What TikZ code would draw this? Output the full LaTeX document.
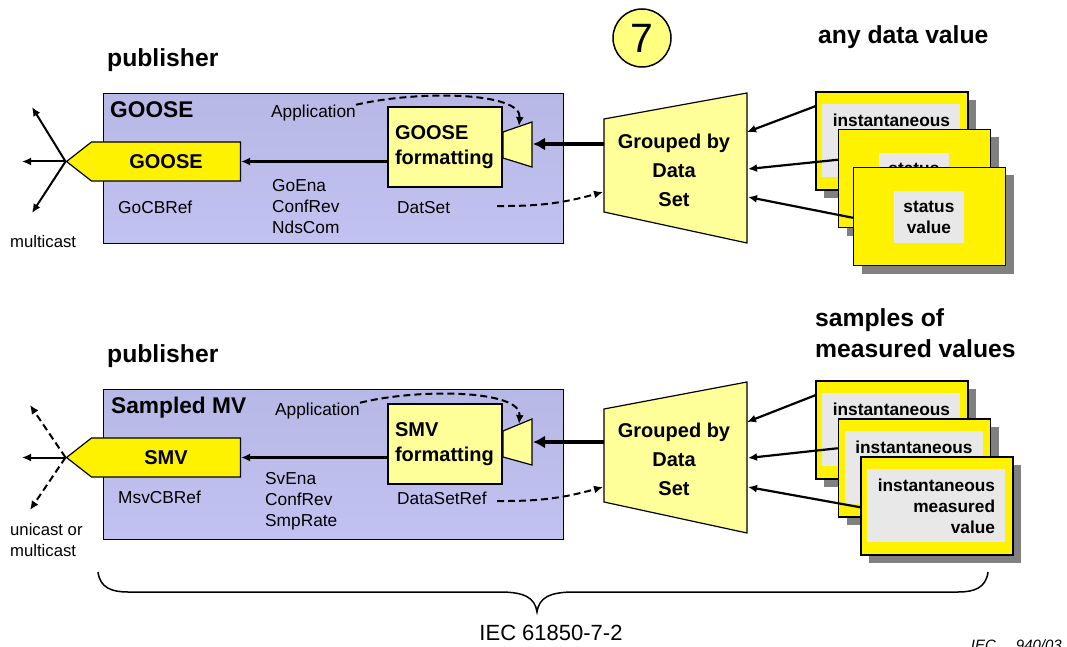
\documentclass[tikz,border=0pt]{standalone}
\usepackage{fontspec}
\setmainfont{Liberation Sans}
\usetikzlibrary{calc, positioning, shapes.symbols, shadows, arrows.meta}
\definecolor{pubtop}{RGB}{184,184,230}
\definecolor{pubmid}{RGB}{206,206,255}
\definecolor{pubbot}{RGB}{194,194,242}
\definecolor{paleyellow}{RGB}{255,255,153}
\definecolor{numyellow}{RGB}{255,255,128}
\definecolor{valgrey}{RGB}{232,232,232}
\definecolor{shadowgrey}{RGB}{128,128,128}
\tikzset{
  % Set arrowhead
  >={Latex[length=9pt, width=8pt]},
  % Texts
  txt/.style={inner sep=0pt, font=\fontsize{17.3}{21}\selectfont},
  cast/.style={inner sep=0pt, font=\fontsize{16.7}{21}\selectfont, align=left},
  title/.style={inner sep=0pt, font=\fontsize{22.7}{27}\selectfont\bfseries},
  head/.style={inner sep=0pt, font=\fontsize{24.7}{31}\selectfont\bfseries, align=left},
  % Publisher box
  pubbox/.style={draw, line width=1.2pt, top color=pubtop, middle color=pubmid,
    bottom color=pubbot, minimum width=460pt, minimum height=150pt,
    inner sep=0pt, anchor=north west},
  % Formatting box
  fmtbox/.style={draw, line width=1.2pt, fill=paleyellow, text width=100pt,
    inner xsep=7pt, minimum height=80pt, align=left,
    font=\fontsize{20}{25}\selectfont\bfseries},
  % Outgoing message
  sigbox/.style={signal, signal to=west, signal pointer angle=76, draw,
    line width=1.2pt, fill=yellow, minimum width=174pt, minimum height=39pt,
    inner sep=0pt, font=\fontsize{20}{25}\selectfont\bfseries},
  % Funnel and data set
  funnel/.style={draw, line width=1.2pt, fill=paleyellow},
  grptxt/.style={inner sep=0pt, align=center, font=\fontsize{20}{29}\selectfont\bfseries},
  % Data value cards
  card/.style={draw, line width=1.5pt, fill=yellow, minimum width=152pt,
    minimum height=98pt, inner sep=0pt,
    drop shadow={shadow xshift=8pt, shadow yshift=-8pt, fill=shadowgrey, opacity=1}},
  valwide/.style={fill=valgrey, minimum width=138pt, minimum height=73pt,
    inner sep=0pt, align=right, font=\fontsize{17.3}{21}\selectfont\bfseries},
  valsmall/.style={valwide, minimum width=70pt, minimum height=52pt, align=center},
  % Arrows
  conn/.style={->, line width=2.2pt},
  fatconn/.style={-{Latex[length=12pt, width=13pt]}, line width=4pt},
  dconn/.style={->, line width=2pt, dash pattern=on 7pt off 4pt},
  castline/.style={->, line width=2pt},
  dcastline/.style={castline, dash pattern=on 7pt off 4pt},
  numcirc/.style={circle, draw, line width=1.5pt, fill=numyellow, minimum size=58pt,
    inner sep=0pt, font=\fontsize{41}{41}\selectfont},
}
\begin{document}
\begin{tikzpicture}[x=1pt, y=-1pt]
  \useasboundingbox (0,0) rectangle (1067,647);

  \node[numcirc] (num7) at (642,38) {7};
  \node[head, anchor=west] (anyhead) at (818,37) {any data value};
  \node[head, anchor=west] (smphead) at (815,333) {samples of\\measured values};

  % GOOSE publisher
  \node[head, anchor=west] (gpub) at (107,60) {publisher};
  \node[pubbox] (gbox) at (103,93) {};
  \node[title, anchor=west] (gtitle) at (110,110) {GOOSE};
  \node[txt, anchor=west] (gapp) at (271,113) {Application};
  \node[txt, anchor=west] (gcbref) at (118,207) {GoCBRef};
  \node[txt, anchor=west, align=left] (gattr) at (272,207) {GoEna\\ConfRev\\NdsCom};
  \node[txt, anchor=west] (gdatset) at (397,208) {DatSet};
  \node[fmtbox] (gfmt) at (445,147) {GOOSE\\formatting};
  \node[sigbox] (gsig) at (166,161.5) {GOOSE};

  \draw[funnel] (503,132) -- (532,122) -- (532,167) -- (503,158) -- cycle;
  \coordinate (gfun-in) at (533,144);
  \coordinate (gfun-top) at (519,126);

  \draw[funnel] (604,119) -- (747,93) -- (747,243) -- (604,212) -- cycle;
  \node[grptxt] (ggrp) at (674,170) {Grouped by\\Data\\Set};
  \coordinate (ggrp-in) at (604,144);
  \coordinate (ggrp-ds) at (603,192);
  \coordinate (ggrp-r1) at (747,132);
  \coordinate (ggrp-r2) at (748,169);
  \coordinate (ggrp-r3) at (748,197);

  \coordinate (gup) at (32,107);
  \coordinate (gleft) at (22,161.5);
  \coordinate (gdown) at (32,213);
  \node[cast, anchor=west] (gcast) at (10,242) {multicast};

  \draw[conn] (gfmt.west |- gsig.east) -- (gsig.east);
  \draw[castline] (gsig.west) -- (gup);
  \draw[castline] (gsig.west) -- (gleft);
  \draw[castline] (gsig.west) -- (gdown);
  \draw[fatconn] (ggrp-in) -- (gfun-in);
  \coordinate (gds-from) at (497,206);
  \draw[dconn] (gds-from) to[bend right=8] (ggrp-ds);
  \draw[dconn] (gapp.north east) .. controls (420,90) and (522,92) .. (gfun-top);

  \node[card] (gcard1) at (892,141) {};
  \node[valwide, anchor=north west] (gval1) at ($(gcard1.north west)+(7,13)$)
    {instantaneous\\measured\\value};
  \node[card] (gcard2) at (914.5,178.5) {};
  \node[valsmall, anchor=north west] (gval2) at ($(gcard2.north west)+(41,24)$)
    {status\\value};
  \node[card] (gcard3) at (929.5,216.5) {};
  \node[valsmall, anchor=north west] (gval3) at ($(gcard3.north west)+(41,24)$)
    {status\\value};

  \draw[conn] ($(gcard1.north west)+(0,15)$) -- (ggrp-r1);
  \draw[conn] ($(gcard2.north west)+(0,31)$) -- (ggrp-r2);
  \draw[conn] ($(gcard3.north west)+(0,51)$) -- (ggrp-r3);

  % Sampled MV publisher
  \node[head, anchor=west] (spub) at (107,356) {publisher};
  \node[pubbox] (sbox) at (103,389) {};
  \node[title, anchor=west] (stitle) at (111,408) {Sampled MV};
  \node[txt, anchor=west] (sapp) at (275,411) {Application};
  \node[txt, anchor=west] (scbref) at (118,497) {MsvCBRef};
  \node[txt, anchor=west, align=left] (sattr) at (265,501) {SvEna\\ConfRev\\SmpRate};
  \node[txt, anchor=west] (sdsref) at (397,498) {DataSetRef};
  \node[fmtbox] (sfmt) at (445,444) {SMV\\formatting};
  \node[sigbox] (ssig) at (166,457.5) {SMV};

  \draw[funnel] (503,431) -- (532,419) -- (532,465) -- (503,457) -- cycle;
  \coordinate (sfun-in) at (533,442);
  \coordinate (sfun-top) at (519,424);

  \draw[funnel] (604,409) -- (747,382) -- (747,533) -- (604,502) -- cycle;
  \node[grptxt] (sgrp) at (674,459) {Grouped by\\Data\\Set};
  \coordinate (sgrp-in) at (604,442);
  \coordinate (sgrp-ds) at (603,487);
  \coordinate (sgrp-r1) at (747,422);
  \coordinate (sgrp-r2) at (748,458);
  \coordinate (sgrp-r3) at (748,487);

  \coordinate (sup) at (30,405);
  \coordinate (sleft) at (22,457.5);
  \coordinate (sdown) at (30,510);
  \node[cast, anchor=west] (scast) at (10,540) {unicast or\\multicast};

  \draw[conn] (sfmt.west |- ssig.east) -- (ssig.east);
  \draw[dcastline] (ssig.west) -- (sup);
  \draw[castline] (ssig.west) -- (sleft);
  \draw[dcastline] (ssig.west) -- (sdown);
  \draw[fatconn] (sgrp-in) -- (sfun-in);
  \coordinate (sds-from) at (497,501);
  \draw[dconn] (sds-from) to[bend right=8] (sgrp-ds);
  \draw[dconn] (sapp.north east) .. controls (420,388) and (522,390) .. (sfun-top);

  \node[card] (scard1) at (892,430) {};
  \node[valwide, anchor=north west] (sval1) at ($(scard1.north west)+(7,13)$)
    {instantaneous\\measured\\value};
  \node[card] (scard2) at (914.5,468) {};
  \node[valwide, anchor=north west] (sval2) at ($(scard2.north west)+(7,13)$)
    {instantaneous\\measured\\value};
  \node[card] (scard3) at (937,506) {};
  \node[valwide, anchor=north west] (sval3) at ($(scard3.north west)+(7,13)$)
    {instantaneous\\measured\\value};

  \draw[conn] ($(scard1.north west)+(0,15)$) -- (sgrp-r1);
  \draw[conn] ($(scard2.north west)+(0,30)$) -- (sgrp-r2);
  \draw[conn] ($(scard3.north west)+(0,51)$) -- (sgrp-r3);

  % Brace
  \draw[line width=1.5pt] (98,572) .. controls (100,588) and (112,592) .. (128,592)
    -- (500,592) .. controls (525,592) and (535,598) .. (537,612)
    .. controls (539,598) and (549,592) .. (574,592) -- (958,592)
    .. controls (974,592) and (986,588) .. (988,572);
  \node[inner sep=0pt, font=\fontsize{22}{26}\selectfont] (stdlbl) at (551,633) {IEC 61850-7-2};
  \node[inner sep=0pt, anchor=north east, font=\fontsize{15}{18}\selectfont\itshape]
    (figid) at (1062,639) {IEC\hspace{20pt}940/03};
\end{tikzpicture}
\end{document}
